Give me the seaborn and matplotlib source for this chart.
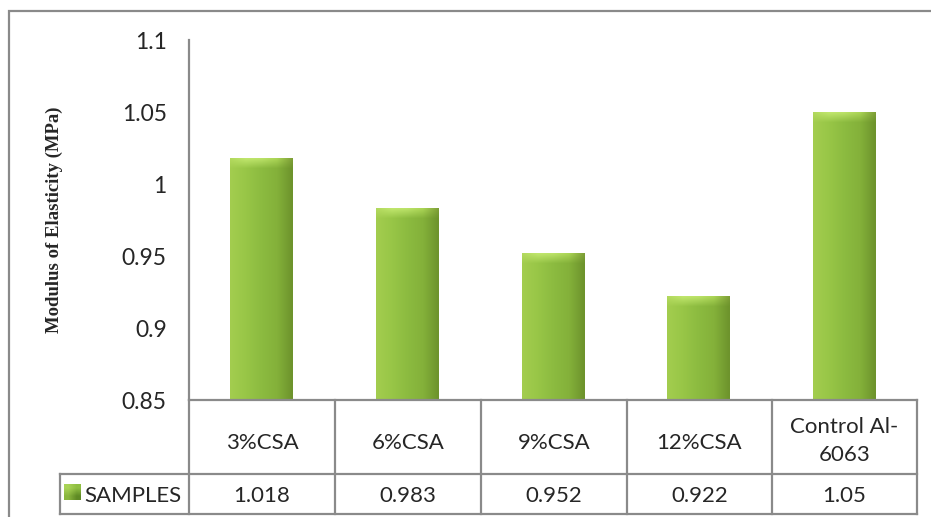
import numpy as np
import matplotlib
matplotlib.use("Agg")
import matplotlib.pyplot as plt
import seaborn as sns
from matplotlib.patches import Rectangle
from matplotlib.colors import to_rgb

categories = ["3%CSA", "6%CSA", "9%CSA", "12%CSA", "Control Al-\n6063"]
values = [1.018, 0.983, 0.952, 0.922, 1.05]
series_name = "SAMPLES"
y_ticks = [0.85, 0.9, 0.95, 1.0, 1.05, 1.1]
y_tick_labels = ["0.85", "0.9", "0.95", "1", "1.05", "1.1"]
value_labels = ["1.018", "0.983", "0.952", "0.922", "1.05"]

sns.set_theme(style="white")
plt.rcParams['font.family'] = ['Lato', 'DejaVu Sans']

W, H = 931, 517
fig = plt.figure(figsize=(W / 100, H / 100), dpi=100)
ax_l, ax_r, ax_t, ax_b = 189, 917, 40, 400
ax = fig.add_axes([ax_l / W, 1 - ax_b / H, (ax_r - ax_l) / W, (ax_b - ax_t) / H])

grey = "#8a8a8a"
fs = 16
# outer border
fig.patches.append(Rectangle((9 / W, -0.05), 1.2, 1 - 11 / H + 0.05, transform=fig.transFigure,
                             fill=False, edgecolor=grey, lw=1.6))

sns.barplot(x=list(range(len(values))), y=values, color="#8fbe42", width=0.43, ax=ax,
            saturation=1, edgecolor="none")
ax.set_xlim(-0.5, len(values) - 0.5)
ax.set_ylim(0.85, 1.1)
ax.set_yticks(y_ticks)
ax.set_yticklabels(y_tick_labels, fontsize=16.5)
ax.tick_params(axis='y', length=0, pad=16)
ax.tick_params(axis='x', bottom=False, labelbottom=False)
ax.set_xlabel("")
ax.set_ylabel("Modulus of Elasticity (MPa)", family="Liberation Serif", fontweight="bold",
              fontsize=13.5, labelpad=0)
ax.yaxis.set_label_coords((63 - ax_l) / (ax_r - ax_l), 0.5)
for s in ["top", "right", "bottom"]:
    ax.spines[s].set_visible(False)
ax.spines["left"].set_color(grey)
ax.spines["left"].set_linewidth(1.6)

# gradient fill for bars
def grad(cols, n):
    cols = [np.array(to_rgb(c)) for c in cols]
    xs = np.linspace(0, 1, n)
    pos = np.linspace(0, 1, len(cols))
    out = np.zeros((n, 3))
    for k in range(3):
        out[:, k] = np.interp(xs, pos, [c[k] for c in cols])
    return out

body = grad(["#a3cd4f", "#98c647", "#8cbb40", "#84b13a", "#6d932c"], 64)
bevel_top = grad(["#b2d95d", "#c0e66d", "#bbe268", "#aad455", "#7e9f37"], 64)
bevel = np.stack([bevel_top * (1 - t) + body * t for t in np.linspace(0, 1, 8)])
for p in ax.patches:
    x0, w = p.get_x(), p.get_width()
    top = p.get_y() + p.get_height()
    p.set_visible(False)
    ax.imshow(body[None, :, :], extent=(x0, x0 + w, 0.85, top), aspect="auto", zorder=2,
              interpolation="bilinear")
    ax.imshow(bevel, extent=(x0, x0 + w, top - 0.0075, top), aspect="auto", zorder=3,
              interpolation="bilinear")
ax.set_xlim(-0.5, len(values) - 0.5)
ax.set_ylim(0.85, 1.1)

# data table (axes fraction coords)
tr = ax.transAxes
def fx(px):
    return (px - ax_l) / (ax_r - ax_l)
def fy(py):
    return (ax_b - py) / (ax_b - ax_t)

row1, row2 = 474, 514
col_edges = [189, 335, 481, 627, 772, 917]
lkw = dict(color=grey, lw=1.6, transform=tr, clip_on=False, solid_capstyle="projecting")
ax.plot([fx(189), fx(917)], [fy(400), fy(400)], **lkw)
ax.plot([fx(60), fx(917)], [fy(row1), fy(row1)], **lkw)
ax.plot([fx(60), fx(917)], [fy(row2), fy(row2)], **lkw)
for cx in col_edges:
    ax.plot([fx(cx), fx(cx)], [fy(400), fy(row2)], **lkw)
ax.plot([fx(60), fx(60)], [fy(row1), fy(row2)], **lkw)

for i, (c, v) in enumerate(zip(categories, value_labels)):
    xc = (col_edges[i] + col_edges[i + 1]) / 2
    yc = 441 if "\n" in c else 443
    ax.text(fx(xc), fy(yc), c, transform=tr, ha="center", va="center",
            fontsize=fs, linespacing=1.45)
    ax.text(fx(xc), fy(496), v, transform=tr, ha="center", va="center",
            fontsize=fs)

# legend key + series name
key = np.array([[to_rgb("#a9d356"), to_rgb("#8fbe42")], [to_rgb("#8ab63e"), to_rgb("#5f8a25")]])
kax = fig.add_axes([64 / W, 1 - 500 / H, 17 / W, 16 / H])
kax.imshow(key, interpolation="bilinear", aspect="auto")
kax.axis("off")
ax.text(fx(84), fy(496), series_name, transform=tr, ha="left", va="center",
        fontsize=fs)

fig.savefig("out.png", dpi=100)
